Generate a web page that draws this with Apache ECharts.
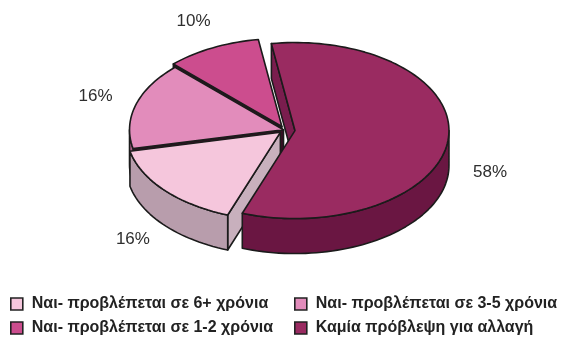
<!DOCTYPE html>
<html>
<head>
<meta charset="utf-8">
<script src="https://cdn.jsdelivr.net/npm/echarts@6/dist/echarts.min.js"></script>
<style>
  html, body { margin: 0; padding: 0; background: #ffffff; }
  #chart { width: 567px; height: 340px; }
</style>
</head>
<body>
<div id="chart"></div>
<script>
// Survey answers and their shares (percent)
const categories = [
  'Ναι- προβλέπεται σε 6+ χρόνια',
  'Ναι- προβλέπεται σε 3-5 χρόνια',
  'Ναι- προβλέπεται σε 1-2 χρόνια',
  'Καμία πρόβλεψη για αλλαγή'
];
const shares = [16, 16, 10, 58];

// Styling of the tilted pie
const topColors  = ['#f5c6dc', '#e28cbb', '#cc4d8e', '#9a2b61'];
const wallColors = ['#b89dac', '#a65b84', '#8a2a5b', '#6a1642'];
const cutColors  = ['#c8b0bd', '#3a0f26', '#3e0c26', '#7a1d4e'];
const explode    = [0.04, 0.01, 0.045, 0.065];

const START = 250;            // first slice starts here, slices run clockwise
const CX = 285, CY = 130;     // pie centre
const RX = 154, RY = 88;      // ellipse radii of the top face
const DEPTH = 35;             // thickness of the disc
const LABEL_RX = 196, LABEL_RY = 118;
const STROKE = '#1b1b1b';

const total = shares.reduce((a, b) => a + b, 0);
const rad = d => d * Math.PI / 180;

// counterclockwise angular range [lo, hi] of slice i
function sliceRange(i, value) {
  let hi = START;
  for (let k = 0; k < i; k++) hi -= 360 * shares[k] / total;
  return [hi - 360 * value / total, hi];
}

function pt(ox, oy, deg, dy) {
  return [ox + RX * Math.cos(rad(deg)), oy - RY * Math.sin(rad(deg)) + (dy || 0)];
}

function arc(ox, oy, a, b, dy) {
  const n = Math.max(2, Math.ceil(Math.abs(b - a) / 2));
  const pts = [];
  for (let j = 0; j <= n; j++) pts.push(pt(ox, oy, a + (b - a) * j / n, dy));
  return pts;
}

function shapeStyle(fill) {
  return { fill: fill, stroke: STROKE, lineWidth: 1.6, lineJoin: 'round' };
}

function renderSlice(params, api) {
  const i = params.seriesIndex;
  const value = api.value(0);
  const [lo, hi] = sliceRange(i, value);
  const mid = (lo + hi) / 2;
  const ox = CX + explode[i] * RX * Math.cos(rad(mid));
  const oy = CY - explode[i] * RY * Math.sin(rad(mid));
  const children = [];

  // outer rim wall, only the part that faces the viewer
  for (let k = -1; k <= 1; k++) {
    const s = Math.max(lo, 180 + 360 * k);
    const e = Math.min(hi, 360 + 360 * k);
    if (e > s) {
      const pts = arc(ox, oy, s, e, 0).concat(arc(ox, oy, e, s, DEPTH));
      let maxY = 0;
      pts.forEach(p => { maxY = Math.max(maxY, p[1]); });
      children.push({
        type: 'polygon', z2: 100 + maxY,
        shape: { points: pts },
        style: shapeStyle(wallColors[i])
      });
    }
  }

  // cut faces at both radial edges
  [[hi, hi + 90], [lo, lo - 90]].forEach(([ang, normal]) => {
    if (Math.sin(rad(normal)) < 0) {
      const rim = pt(ox, oy, ang, 0);
      children.push({
        type: 'polygon', z2: 100 + (oy + rim[1]) / 2,
        shape: { points: [[ox, oy], rim, [rim[0], rim[1] + DEPTH], [ox, oy + DEPTH]] },
        style: shapeStyle(cutColors[i])
      });
    }
  });

  // top face
  children.push({
    type: 'polygon', z2: 1000,
    shape: { points: [[ox, oy]].concat(arc(ox, oy, lo, hi, 0)) },
    style: shapeStyle(topColors[i])
  });

  // percentage label
  const s = Math.sin(rad(mid));
  children.push({
    type: 'text', z2: 2000,
    style: {
      x: ox + LABEL_RX * Math.cos(rad(mid)),
      y: oy - LABEL_RY * s + (s < 0 ? 0.85 * DEPTH : 0),
      text: value + '%',
      align: 'center', verticalAlign: 'middle',
      fill: '#2e2e2e',
      font: '17px "Liberation Sans", Arial, sans-serif'
    }
  });

  return { type: 'group', children: children };
}

const legendPos = [[10, 296], [294, 296], [10, 320], [294, 320]];

const option = {
  animation: false,
  backgroundColor: '#ffffff',
  legend: categories.map((name, i) => ({
    data: [name],
    left: legendPos[i][0],
    top: legendPos[i][1],
    padding: 0,
    icon: 'rect',
    itemWidth: 12,
    itemHeight: 12,
    selectedMode: false,
    itemStyle: { borderColor: '#222222', borderWidth: 1.6 },
    textStyle: {
      fontSize: 16, fontWeight: 'bold', color: '#222222',
      fontFamily: '"Liberation Sans", Arial, sans-serif',
      padding: [0, 0, 0, 4]
    }
  })),
  series: categories.map((name, i) => ({
    type: 'custom',
    name: name,
    coordinateSystem: 'none',
    itemStyle: { color: topColors[i] },
    renderItem: renderSlice,
    data: [[shares[i]]]
  }))
};

const chart = echarts.init(document.getElementById('chart'), null, { renderer: 'canvas' });
chart.setOption(option);
</script>
</body>
</html>
